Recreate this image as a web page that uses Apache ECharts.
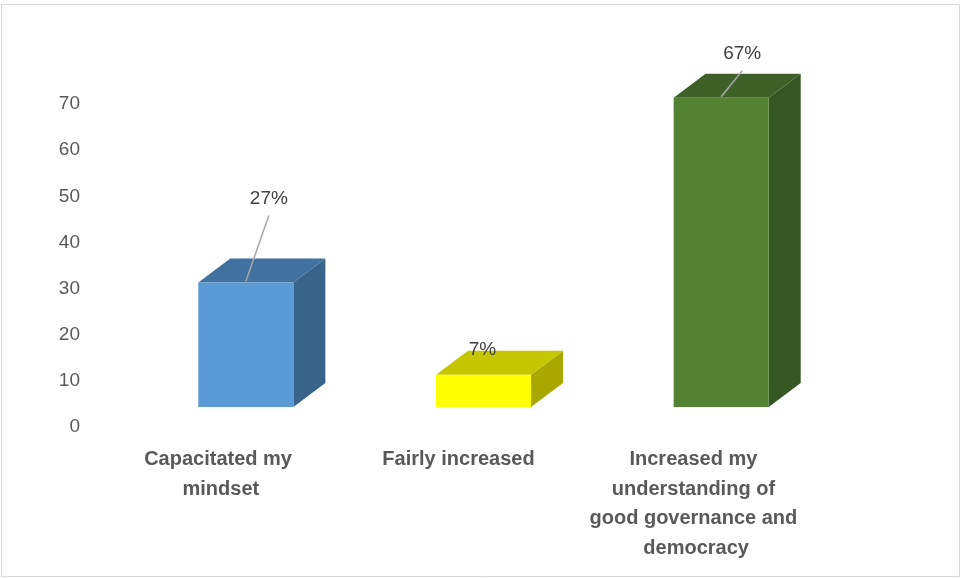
<!DOCTYPE html>
<html>
<head>
<meta charset="utf-8">
<script src="https://cdn.jsdelivr.net/npm/echarts@6/dist/echarts.min.js"></script>
<style>
html,body{margin:0;padding:0;background:#fff;}
#chart{width:962px;height:578px;}
</style>
</head>
<body>
<div id="chart"></div>
<script>
// Data
var categories = ['Capacitated my mindset', 'Fairly increased', 'Increased my understanding of good governance and democracy'];
var values = [27, 7, 67];
var labels = ['27%', '7%', '67%'];
var yTicks = [0, 10, 20, 30, 40, 50, 60, 70];

// Styles
var faceColors = [
  {front: '#5B9BD5', top: '#41729F', side: '#38648A'},
  {front: '#FFFF00', top: '#C6C600', side: '#A8A800'},
  {front: '#548235', top: '#3F6129', side: '#365623'}
];
var labelStyle = [
  {dx: 23, dy: -84, line: true},
  {dx: -1, dy: -25, line: false},
  {dx: 21, dy: -44, line: true}
];
var DEPTH_X = 32, DEPTH_Y = -24, FLOOR = 20, BAR_RATIO = 0.4;

var chart = echarts.init(document.getElementById('chart'));

function renderItem(params, api) {
  var idx = api.value(0);
  var val = api.value(1);
  var p0 = api.coord([idx, 0]);
  var p1 = api.coord([idx, val]);
  var w = api.size([1, 0])[0] * BAR_RATIO;
  var xl = p0[0] - w / 2, xr = p0[0] + w / 2;
  var yb = p0[1] - FLOOR, yt = p1[1] - FLOOR;
  var c = faceColors[idx];
  var ls = labelStyle[idx];
  var children = [
    {type: 'polygon', shape: {points: [[xr, yt], [xr + DEPTH_X, yt + DEPTH_Y], [xr + DEPTH_X, yb + DEPTH_Y], [xr, yb]]}, style: {fill: c.side}},
    {type: 'polygon', shape: {points: [[xl, yt], [xl + DEPTH_X, yt + DEPTH_Y], [xr + DEPTH_X, yt + DEPTH_Y], [xr, yt]]}, style: {fill: c.top}},
    {type: 'rect', shape: {x: xl, y: yt, width: w, height: yb - yt}, style: {fill: c.front}}
  ];
  var lx = p0[0] + ls.dx, ly = yt + ls.dy;
  if (ls.line) {
    children.push({type: 'line', shape: {x1: p0[0], y1: yt - 1, x2: lx, y2: ly + 17}, style: {stroke: '#A6A6A6', lineWidth: 1.5}});
  }
  children.push({type: 'text', style: {text: labels[idx], x: lx, y: ly, align: 'center', verticalAlign: 'middle', fill: '#404040', font: '19px "Liberation Sans", sans-serif'}});
  return {type: 'group', children: children};
}

var option = {
  backgroundColor: '#fff',
  animation: false,
  grid: {left: 127, right: 122, top: 104, bottom: 151, containLabel: false},
  xAxis: {
    type: 'category',
    data: categories,
    axisLine: {show: false},
    axisTick: {show: false},
    axisLabel: {
      interval: 0,
      margin: 18,
      width: 215,
      overflow: 'break',
      lineHeight: 29.5,
      padding: [0, 50, 0, 0],
      color: '#595959',
      fontSize: 20,
      fontWeight: 'bold',
      fontFamily: '"Liberation Sans", sans-serif'
    }
  },
  yAxis: {
    type: 'value',
    min: yTicks[0],
    max: yTicks[yTicks.length - 1],
    interval: 10,
    splitLine: {show: false},
    axisLine: {show: false},
    axisTick: {show: false},
    axisLabel: {
      margin: 47,
      color: '#595959',
      fontSize: 19,
      fontFamily: '"Liberation Sans", sans-serif'
    }
  },
  graphic: [{
    type: 'rect', shape: {x: 1.5, y: 4.5, width: 958, height: 572},
    style: {fill: 'none', stroke: '#D9D9D9', lineWidth: 1}, silent: true, z: -1
  }],
  series: [{
    type: 'custom',
    renderItem: renderItem,
    clip: false,
    data: values.map(function (v, i) { return [i, v]; }),
    encode: {x: 0, y: 1}
  }]
};
chart.setOption(option);
</script>
</body>
</html>
